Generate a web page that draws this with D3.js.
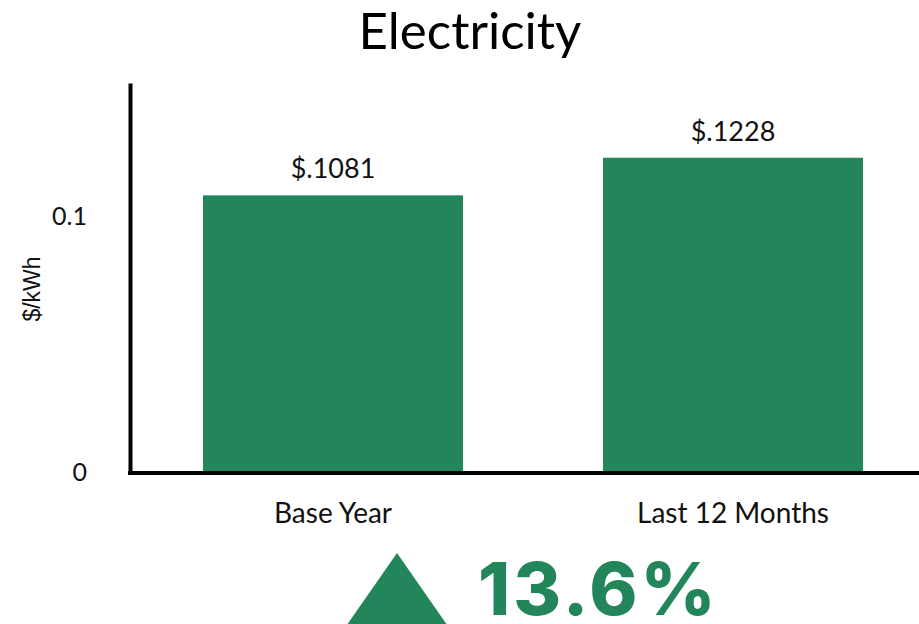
<!DOCTYPE html>
<html>
<head>
<meta charset="utf-8">
<script src="https://cdn.jsdelivr.net/npm/d3@7"></script>
<style>
  body { margin: 0; background: #fff; }
  svg { display: block; font-family: Lato, "Open Sans", sans-serif; }
</style>
</head>
<body>
<div id="chart"></div>
<script>
// Chart data
var categories = ["Base Year", "Last 12 Months"];
var values = [0.1081, 0.1228];
var valueLabels = ["$.1081", "$.1228"];
var tickValues = [0, 0.1];
var tickLabels = ["0", "0.1"];
var changeText = "13.6%";

var width = 919;
var height = 624;
var green = "#23865a";

var svg = d3.select("#chart")
    .append("svg")
    .attr("width", width)
    .attr("height", height);

// Scales
var x = d3.scaleBand()
    .domain(categories)
    .range([130, 936])
    .paddingInner(0.35)
    .paddingOuter(0.1825);

var y = d3.scaleLinear()
    .domain([0, 0.152])
    .range([472, 83]);

// Title
svg.append("text")
    .attr("x", 470)
    .attr("y", 49)
    .attr("text-anchor", "middle")
    .style("font-size", "51px")
    .style("fill", "#000")
    .text("Electricity");

// Bars
svg.selectAll(".bar")
    .data(values)
    .enter().append("rect")
    .attr("class", "bar")
    .attr("x", function (d, i) { return x(categories[i]); })
    .attr("y", function (d) { return y(d); })
    .attr("width", x.bandwidth())
    .attr("height", function (d) { return y(0) - y(d); })
    .style("fill", green);

// Value labels above bars
svg.selectAll(".value-label")
    .data(values)
    .enter().append("text")
    .attr("class", "value-label")
    .attr("x", function (d, i) { return x(categories[i]) + x.bandwidth() / 2; })
    .attr("y", function (d) { return y(d) - 17; })
    .attr("text-anchor", "middle")
    .style("font-size", "27px")
    .style("fill", "#111")
    .text(function (d, i) { return valueLabels[i]; });

// Y axis
var yAxis = svg.append("g")
    .attr("transform", "translate(130,0)")
    .call(d3.axisLeft(y)
        .tickValues(tickValues)
        .tickSize(0)
        .tickPadding(43)
        .tickFormat(function (d, i) { return tickLabels[i]; }));

yAxis.select(".domain")
    .attr("stroke", "#000")
    .attr("stroke-width", 4);

yAxis.selectAll("text")
    .style("font-family", "Lato, sans-serif")
    .style("font-size", "25px")
    .style("fill", "#111");

// X axis
var xAxis = svg.append("g")
    .attr("transform", "translate(0,473)")
    .call(d3.axisBottom(x).tickSize(0).tickPadding(30));

xAxis.select(".domain")
    .attr("d", "M128,0H919")
    .attr("stroke", "#000")
    .attr("stroke-width", 4);

xAxis.selectAll("text")
    .style("font-family", "Lato, sans-serif")
    .style("font-size", "28px")
    .style("fill", "#111");

// Y axis label
svg.append("text")
    .attr("transform", "translate(40,289) rotate(-90)")
    .attr("text-anchor", "middle")
    .style("font-family", "Arial, 'Liberation Sans', sans-serif")
    .style("font-size", "23px")
    .style("fill", "#111")
    .text("$/kWh");

// Change indicator
svg.append("path")
    .attr("d", d3.line()([[397, 553], [452, 632], [342, 632]]))
    .style("fill", green);

svg.append("text")
    .attr("x", 478)
    .attr("y", 615)
    .style("font-family", "Inter, Lato, sans-serif")
    .style("font-size", "73px")
    .style("font-weight", 800)
    .style("letter-spacing", "3px")
    .style("fill", green)
    .text(changeText);
</script>
</body>
</html>
